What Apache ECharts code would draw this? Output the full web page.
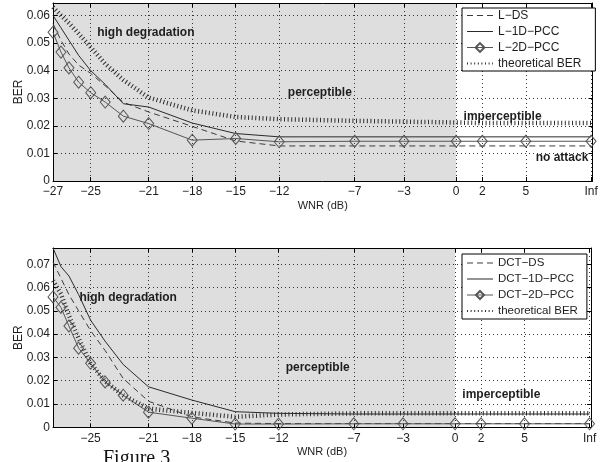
<!DOCTYPE html>
<html>
<head>
<meta charset="utf-8">
<script src="https://cdn.jsdelivr.net/npm/echarts@6/dist/echarts.min.js"></script>
<style>
    html, body { margin: 0; padding: 0; background: #fff; }
    #chart { width: 612px; height: 462px; }
</style>
</head>
<body>
<div id="chart"></div>
<script>
// tick positions on the plot's x scale and the WNR label printed at each one
const wnrPos = [-27.6, -25, -21, -18, -15, -12, -6.8, -3.4, 0.2, 2, 5, 9.5]
const wnrLabels = ['−27', '−25', '−21', '−18', '−15', '−12', '−7', '−3', '0', '2', '5', 'Inf']
// the lower plot has no -27 label
const wnrPosLow = wnrPos.slice(1)
const wnrLabelsLow = wnrLabels.slice(1)

// x positions of the measured points (same for every curve)
const ptPos = [-27.6, -27.05, -26.5, -25.83, -25, -24, -22.75, -21, -18, -15, -12, -6.8, -3.4, 0.2, 2, 5, 9.5]

const berTicksTop = [0, 0.01, 0.02, 0.03, 0.04, 0.05, 0.06]
const berTicksLow = [0, 0.01, 0.02, 0.03, 0.04, 0.05, 0.06, 0.07]

// upper plot
const lNames = ['L−DS', 'L−1D−PCC', 'L−2D−PCC', 'theoretical BER']
const lDS = [0.057, 0.051, 0.046, 0.042, 0.039, 0.0345, 0.0285, 0.025, 0.0198, 0.0145, 0.0127, 0.0127, 0.0127, 0.0127, 0.0127, 0.0127, 0.0127]
const l1D = [0.060, 0.0555, 0.051, 0.0455, 0.040, 0.035, 0.028, 0.0268, 0.021, 0.0172, 0.016, 0.016, 0.016, 0.016, 0.016, 0.016, 0.016]
const l2D = [0.0539, 0.0467, 0.041, 0.0358, 0.032, 0.0286, 0.0235, 0.0208, 0.0148, 0.0154, 0.0142, 0.0144, 0.0144, 0.0144, 0.0144, 0.0144, 0.0144]
const lTheory = [0.063, 0.060, 0.0572, 0.0534, 0.0485, 0.0425, 0.0366, 0.0302, 0.0256, 0.0232, 0.0224, 0.0218, 0.0215, 0.0212, 0.021, 0.021, 0.021]

// lower plot
const dNames = ['DCT−DS', 'DCT−1D−PCC', 'DCT−2D−PCC', 'theoretical BER']
const dDS = [0.071, 0.064, 0.057, 0.050, 0.0415, 0.033, 0.021, 0.0112, 0.0045, 0.0018, 0.0016, 0.0016, 0.0016, 0.0016, 0.0016, 0.0016, 0.0016]
const d1D = [0.077, 0.069, 0.065, 0.057, 0.046, 0.037, 0.027, 0.0174, 0.0117, 0.0067, 0.006, 0.0057, 0.0057, 0.0057, 0.0057, 0.0057, 0.0057]
const d2D = [0.056, 0.0515, 0.0435, 0.034, 0.0275, 0.0195, 0.0138, 0.0065, 0.0039, 0.0014, 0.0014, 0.0015, 0.0015, 0.0015, 0.0015, 0.0015, 0.0015]
const dTheory = [0.063, 0.0573, 0.048, 0.0382, 0.0275, 0.0197, 0.0138, 0.008, 0.0062, 0.0045, 0.0055, 0.006, 0.006, 0.006, 0.006, 0.006, 0.006]

// region labels: [text, x, y]
const lNotes = [['high degradation', -21.2, 0.0536], ['perceptible', -9.2, 0.0321], ['imperceptible', 3.4, 0.0233], ['no attack', 7.5, 0.0083]]
const dNotes = [['high degradation', -22.4, 0.0555], ['perceptible', -9.3, 0.0254], ['imperceptible', 3.4, 0.0139]]

const X_MIN = -27.6
const X_MAX = 9.6
const SHADE_END = 0.2 // shaded (attacked, visible) zone ends at the 0 dB tick
const FONT = 'Liberation Sans'
const INK = '#1e1e1e'

const chart = echarts.init(document.getElementById('chart'))

function tickFormatter(positions, labels) {
    return function (v) {
        const i = positions.findIndex(p => Math.abs(p - v) < 1e-6)
        return i < 0 ? '' : labels[i]
    }
}

function makeXAxes(gridIndex, ticks, labels, nameGap) {
    const base = {
        type: 'value',
        gridIndex,
        min: X_MIN,
        max: X_MAX,
        axisLine: { show: true, onZero: false, lineStyle: { color: '#000', width: 1 } },
        axisTick: { show: true, inside: true, length: 4, customValues: ticks, lineStyle: { color: '#000' } },
    }
    return [
        Object.assign({}, base, {
            position: 'bottom',
            name: 'WNR (dB)',
            nameLocation: 'middle',
            nameGap,
            nameMoveOverlap: false,
            nameTextStyle: { fontFamily: FONT, fontSize: 11, color: INK },
            axisLabel: {
                customValues: ticks,
                formatter: tickFormatter(ticks, labels),
                margin: 5,
                fontFamily: FONT,
                fontSize: 12,
                color: INK,
            },
            splitLine: { show: true, lineStyle: { color: '#333', type: [1, 3], width: 1 } },
        }),
        Object.assign({}, base, {
            position: 'top',
            axisLabel: { show: false },
            splitLine: { show: false },
        }),
    ]
}

function makeYAxes(gridIndex, max, ticks) {
    const base = {
        type: 'value',
        gridIndex,
        min: 0,
        max,
        axisLine: { show: true, onZero: false, lineStyle: { color: '#000', width: 1 } },
        axisTick: { show: true, inside: true, length: 4, customValues: ticks, lineStyle: { color: '#000' } },
    }
    return [
        Object.assign({}, base, {
            position: 'left',
            name: 'BER',
            nameLocation: 'middle',
            nameGap: 28,
            nameMoveOverlap: false,
            nameTextStyle: { fontFamily: FONT, fontSize: 12, color: INK },
            axisLabel: {
                customValues: ticks,
                formatter: v => (v === 0 ? '0' : v.toFixed(2)),
                margin: 3,
                fontFamily: FONT,
                fontSize: 12,
                color: INK,
            },
            splitLine: { show: true, lineStyle: { color: '#333', type: [1, 3], width: 1 } },
        }),
        Object.assign({}, base, {
            position: 'right',
            axisLabel: { show: false },
            splitLine: { show: false },
        }),
    ]
}

function pts(values) {
    return ptPos.map((x, i) => [x, values[i]])
}

const theoryLine = { color: '#2e2e2e', width: 4.5, type: [1, 2.6] }

function panelSeries(axisIndex, names, ds, pcc1, pcc2, theory, notes) {
    const common = {
        type: 'line',
        xAxisIndex: axisIndex,
        yAxisIndex: axisIndex,
        animation: false,
        silent: true,
        symbol: 'none',
        clip: true,
    }
    return [
        Object.assign({}, common, {
            name: names[0],
            data: pts(ds),
            lineStyle: { color: '#3c3c3c', width: 1, type: [6, 4] },
            itemStyle: { color: '#3c3c3c' },
            markArea: {
                silent: true,
                z: -1,
                itemStyle: { color: '#dedede' },
                data: [[{ xAxis: X_MIN }, { xAxis: SHADE_END }]],
            },
        }),
        Object.assign({}, common, {
            name: names[1],
            data: pts(pcc1),
            lineStyle: { color: '#2a2a2a', width: 1 },
            itemStyle: { color: '#2a2a2a' },
        }),
        Object.assign({}, common, {
            name: names[2],
            data: pts(pcc2),
            symbol: 'diamond',
            symbolSize: [10, 12],
            lineStyle: { color: '#555', width: 1 },
            itemStyle: { color: 'rgba(0,0,0,0)', borderColor: '#555', borderWidth: 1 },
        }),
        Object.assign({}, common, {
            name: names[3],
            data: pts(theory),
            lineStyle: theoryLine,
            itemStyle: { color: '#2e2e2e' },
            markPoint: {
                silent: true,
                symbol: 'circle',
                symbolSize: 1,
                itemStyle: { color: 'rgba(0,0,0,0)' },
                label: {
                    show: true,
                    position: 'inside',
                    formatter: '{b}',
                    fontFamily: FONT,
                    fontSize: 12,
                    fontWeight: 'bold',
                    color: INK,
                },
                data: notes.map(n => ({ name: n[0], coord: [n[1], n[2]] })),
            },
        }),
    ]
}

function makeLegend(names, left, top, fontSize, itemHeight, padding) {
    // plain thin line samples; only the 2D-PCC entry keeps its diamond
    const noMarker = { color: 'rgba(0,0,0,0)', borderWidth: 0 }
    const thin = { width: 1 }
    return {
        data: names.map((n, i) => {
            if (i === 2) return { name: n, lineStyle: thin }
            if (i === 3) return { name: n, itemStyle: noMarker }
            return { name: n, itemStyle: noMarker, lineStyle: thin }
        }),
        orient: 'vertical',
        left,
        top,
        padding,
        itemGap: 4,
        itemWidth: 26,
        itemHeight,
        selectedMode: false,
        backgroundColor: '#fff',
        borderColor: '#000',
        borderWidth: 1,
        borderRadius: 0,
        textStyle: { fontFamily: FONT, fontSize, color: INK },
    }
}

const xTop = makeXAxes(0, wnrPos, wnrLabels, 19)
const xLow = makeXAxes(1, wnrPosLow, wnrLabelsLow, 19)
const yTop = makeYAxes(0, 0.0645, berTicksTop)
const yLow = makeYAxes(1, 0.077, berTicksLow)

chart.setOption({
    animation: false,
    backgroundColor: '#fff',
    grid: [
        { left: 53, top: 3, width: 539.5, height: 178, containLabel: false, outerBoundsMode: 'none' },
        { left: 53, top: 248, width: 538, height: 179.3, containLabel: false, outerBoundsMode: 'none' },
    ],
    // order: bottom/left axes of each panel first, so series index 0/1 pick them
    xAxis: [xTop[0], xLow[0], xTop[1], xLow[1]],
    yAxis: [yTop[0], yLow[0], yTop[1], yLow[1]],
    legend: [
        makeLegend(lNames, 462, 8, 12, 11, [1.5, 14, 1.5, 4]),
        makeLegend(dNames, 462, 254, 11.5, 10, [3, 9, 2, 4]),
    ],
    series: [].concat(
        panelSeries(0, lNames, lDS, l1D, l2D, lTheory, lNotes),
        panelSeries(1, dNames, dDS, d1D, d2D, dTheory, dNotes)
    ),
    graphic: [
        {
            type: 'text',
            left: 103,
            top: 449,
            silent: true,
            style: { text: 'Figure 3', font: '20px "Liberation Serif"', fill: '#111' },
        },
    ],
})
</script>
</body>
</html>
